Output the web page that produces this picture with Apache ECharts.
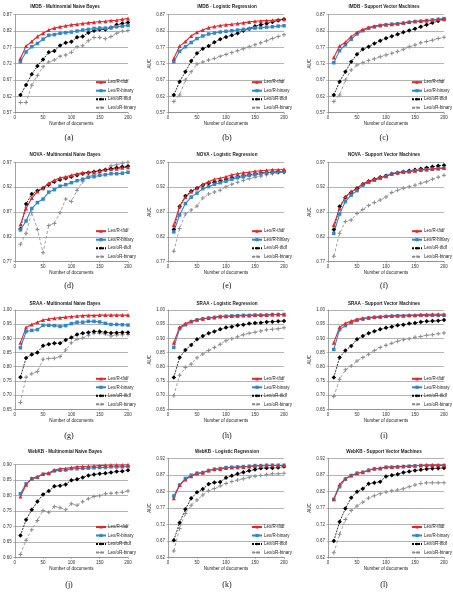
<!DOCTYPE html>
<html>
<head>
<meta charset="utf-8">
<script src="https://cdn.jsdelivr.net/npm/echarts@6/dist/echarts.min.js"></script>
<style>
  html, body { margin: 0; padding: 0; background: #fff; }
  #chart { width: 453px; height: 599px; }
</style>
</head>
<body>
<div id="chart"></div>
<script>
// number of labelled documents (x values)
const docs = [10, 20, 30, 40, 50, 60, 70, 80, 90, 100, 110, 120, 130, 140, 150, 160, 170, 180, 190, 200]
const seriesNames = ['Lex/R-tfidf', 'Lex/R-binary', 'Lex/oR-tfidf', 'Lex/oR-binary']
const panelTitles = [
  'IMDB - Multinomial Naive Bayes', 'IMDB - Logistic Regression', 'IMDB - Support Vector Machines',
  'NOVA - Multinomial Naive Bayes', 'NOVA - Logistic Regression', 'NOVA - Support Vector Machines',
  'SRAA - Multinomial Naive Bayes', 'SRAA - Logistic Regression', 'SRAA - Support Vector Machines',
  'WebKB - Multinomial Naive Bayes', 'WebKB - Logistic Regression', 'WebKB - Support Vector Machines',
]
const captions = ['(a)', '(b)', '(c)', '(d)', '(e)', '(f)', '(g)', '(h)', '(i)', '(j)', '(k)', '(l)']

// tick labels
const xTicks = [0, 50, 100, 150, 200]
const ticksImdb = [0.57, 0.62, 0.67, 0.72, 0.77, 0.82, 0.87]
const ticksNova = [0.77, 0.82, 0.87, 0.92, 0.97]
const ticksSraa = [0.65, 0.70, 0.75, 0.80, 0.85, 0.90, 0.95, 1.00]
const ticksWebkbNB = [0.60, 0.65, 0.70, 0.75, 0.80, 0.85, 0.90]
const ticksWebkb = [0.62, 0.67, 0.72, 0.77, 0.82, 0.87, 0.92]

// AUC values, rows in the order of seriesNames
const imdbNB = [
  [0.736, 0.774, 0.788, 0.803, 0.813, 0.823, 0.829, 0.833, 0.836, 0.839, 0.841, 0.843, 0.845, 0.847, 0.849, 0.850, 0.852, 0.853, 0.856, 0.858],
  [0.726, 0.756, 0.772, 0.782, 0.795, 0.807, 0.809, 0.813, 0.815, 0.817, 0.820, 0.823, 0.825, 0.828, 0.829, 0.829, 0.830, 0.833, 0.835, 0.837],
  [0.624, 0.655, 0.688, 0.713, 0.733, 0.755, 0.759, 0.776, 0.784, 0.787, 0.801, 0.803, 0.815, 0.821, 0.825, 0.825, 0.831, 0.839, 0.843, 0.846],
  [0.601, 0.601, 0.654, 0.684, 0.711, 0.725, 0.731, 0.743, 0.747, 0.755, 0.772, 0.775, 0.790, 0.800, 0.800, 0.796, 0.803, 0.813, 0.819, 0.822],
]
const imdbLR = [
  [0.736, 0.774, 0.788, 0.805, 0.816, 0.823, 0.830, 0.834, 0.837, 0.839, 0.841, 0.843, 0.845, 0.848, 0.850, 0.851, 0.852, 0.853, 0.855, 0.856],
  [0.726, 0.758, 0.772, 0.785, 0.797, 0.805, 0.811, 0.814, 0.817, 0.819, 0.821, 0.823, 0.825, 0.827, 0.829, 0.830, 0.832, 0.833, 0.835, 0.836],
  [0.624, 0.665, 0.695, 0.728, 0.752, 0.766, 0.774, 0.786, 0.795, 0.802, 0.807, 0.813, 0.821, 0.827, 0.835, 0.839, 0.843, 0.848, 0.852, 0.856],
  [0.604, 0.624, 0.670, 0.695, 0.719, 0.725, 0.731, 0.736, 0.743, 0.748, 0.754, 0.760, 0.766, 0.772, 0.778, 0.784, 0.790, 0.797, 0.803, 0.809],
]
const imdbSVM = [
  [0.739, 0.774, 0.786, 0.803, 0.816, 0.825, 0.831, 0.835, 0.838, 0.840, 0.841, 0.843, 0.845, 0.848, 0.850, 0.851, 0.852, 0.853, 0.855, 0.857],
  [0.723, 0.760, 0.778, 0.795, 0.811, 0.821, 0.829, 0.833, 0.837, 0.839, 0.841, 0.842, 0.844, 0.847, 0.849, 0.850, 0.852, 0.854, 0.856, 0.858],
  [0.624, 0.665, 0.695, 0.726, 0.749, 0.764, 0.772, 0.782, 0.790, 0.798, 0.804, 0.810, 0.816, 0.822, 0.827, 0.833, 0.839, 0.845, 0.851, 0.856],
  [0.604, 0.624, 0.670, 0.701, 0.716, 0.723, 0.730, 0.735, 0.741, 0.747, 0.752, 0.757, 0.764, 0.772, 0.777, 0.784, 0.788, 0.792, 0.797, 0.801],
]
const novaNB = [
  [0.845, 0.877, 0.898, 0.911, 0.918, 0.928, 0.934, 0.939, 0.941, 0.944, 0.947, 0.949, 0.950, 0.951, 0.953, 0.955, 0.956, 0.957, 0.959, 0.960],
  [0.834, 0.852, 0.877, 0.889, 0.896, 0.910, 0.915, 0.922, 0.925, 0.929, 0.933, 0.936, 0.940, 0.941, 0.944, 0.945, 0.947, 0.947, 0.948, 0.950],
  [0.836, 0.886, 0.906, 0.913, 0.918, 0.925, 0.931, 0.935, 0.938, 0.941, 0.944, 0.947, 0.949, 0.951, 0.953, 0.955, 0.957, 0.959, 0.961, 0.962],
  [0.805, 0.827, 0.869, 0.835, 0.788, 0.843, 0.847, 0.869, 0.896, 0.891, 0.914, 0.931, 0.941, 0.945, 0.949, 0.955, 0.963, 0.965, 0.968, 0.970],
]
const novaLR = [
  [0.844, 0.881, 0.900, 0.911, 0.918, 0.926, 0.931, 0.936, 0.938, 0.941, 0.945, 0.947, 0.949, 0.950, 0.952, 0.953, 0.954, 0.955, 0.955, 0.956],
  [0.830, 0.864, 0.887, 0.900, 0.908, 0.917, 0.921, 0.926, 0.929, 0.932, 0.936, 0.939, 0.941, 0.944, 0.945, 0.947, 0.949, 0.950, 0.951, 0.952],
  [0.835, 0.881, 0.902, 0.912, 0.918, 0.924, 0.928, 0.930, 0.932, 0.936, 0.939, 0.941, 0.943, 0.945, 0.947, 0.949, 0.949, 0.950, 0.951, 0.951],
  [0.791, 0.837, 0.866, 0.874, 0.882, 0.898, 0.906, 0.910, 0.914, 0.921, 0.926, 0.930, 0.934, 0.937, 0.940, 0.942, 0.945, 0.947, 0.949, 0.950],
]
const novaSVM = [
  [0.844, 0.877, 0.901, 0.911, 0.918, 0.927, 0.932, 0.936, 0.940, 0.942, 0.947, 0.949, 0.951, 0.952, 0.953, 0.955, 0.956, 0.957, 0.958, 0.959],
  [0.827, 0.866, 0.891, 0.904, 0.913, 0.924, 0.930, 0.934, 0.938, 0.942, 0.947, 0.949, 0.950, 0.951, 0.953, 0.954, 0.955, 0.956, 0.957, 0.958],
  [0.835, 0.881, 0.899, 0.909, 0.918, 0.926, 0.932, 0.936, 0.940, 0.943, 0.947, 0.949, 0.951, 0.953, 0.955, 0.957, 0.959, 0.961, 0.963, 0.964],
  [0.781, 0.827, 0.851, 0.854, 0.867, 0.875, 0.883, 0.889, 0.894, 0.900, 0.909, 0.914, 0.918, 0.921, 0.924, 0.928, 0.931, 0.936, 0.940, 0.944],
]
const sraaNB = [
  [0.885, 0.938, 0.949, 0.957, 0.965, 0.968, 0.971, 0.973, 0.975, 0.977, 0.979, 0.980, 0.981, 0.981, 0.982, 0.982, 0.982, 0.982, 0.982, 0.982],
  [0.867, 0.924, 0.928, 0.931, 0.946, 0.946, 0.945, 0.942, 0.945, 0.952, 0.957, 0.957, 0.960, 0.960, 0.958, 0.953, 0.949, 0.949, 0.948, 0.947],
  [0.763, 0.831, 0.843, 0.850, 0.874, 0.879, 0.883, 0.883, 0.894, 0.903, 0.914, 0.918, 0.921, 0.924, 0.924, 0.922, 0.919, 0.920, 0.921, 0.921],
  [0.674, 0.763, 0.775, 0.783, 0.826, 0.829, 0.830, 0.836, 0.859, 0.885, 0.897, 0.901, 0.911, 0.918, 0.918, 0.915, 0.908, 0.912, 0.913, 0.914],
]
const sraaLR = [
  [0.885, 0.939, 0.952, 0.960, 0.966, 0.969, 0.972, 0.974, 0.977, 0.978, 0.979, 0.980, 0.981, 0.981, 0.982, 0.982, 0.982, 0.984, 0.984, 0.984],
  [0.868, 0.934, 0.948, 0.959, 0.965, 0.969, 0.972, 0.974, 0.977, 0.978, 0.979, 0.980, 0.981, 0.981, 0.982, 0.982, 0.982, 0.984, 0.984, 0.984],
  [0.762, 0.833, 0.859, 0.877, 0.897, 0.908, 0.918, 0.924, 0.932, 0.938, 0.941, 0.946, 0.948, 0.952, 0.954, 0.955, 0.958, 0.959, 0.960, 0.961],
  [0.698, 0.770, 0.797, 0.810, 0.832, 0.845, 0.857, 0.868, 0.879, 0.892, 0.899, 0.906, 0.913, 0.918, 0.922, 0.926, 0.930, 0.932, 0.934, 0.937],
]
const sraaSVM = [
  [0.885, 0.939, 0.953, 0.961, 0.967, 0.971, 0.973, 0.975, 0.977, 0.979, 0.980, 0.981, 0.981, 0.982, 0.982, 0.984, 0.984, 0.985, 0.985, 0.985],
  [0.861, 0.931, 0.945, 0.955, 0.964, 0.968, 0.972, 0.974, 0.975, 0.977, 0.978, 0.979, 0.979, 0.980, 0.980, 0.981, 0.981, 0.981, 0.981, 0.981],
  [0.762, 0.833, 0.857, 0.873, 0.897, 0.908, 0.918, 0.925, 0.932, 0.937, 0.941, 0.946, 0.948, 0.952, 0.954, 0.958, 0.960, 0.961, 0.962, 0.965],
  [0.695, 0.756, 0.789, 0.803, 0.820, 0.833, 0.844, 0.857, 0.868, 0.876, 0.883, 0.890, 0.895, 0.899, 0.904, 0.907, 0.911, 0.913, 0.916, 0.919],
]
const webkbNB = [
  [0.797, 0.835, 0.856, 0.861, 0.871, 0.873, 0.883, 0.887, 0.888, 0.891, 0.893, 0.894, 0.895, 0.896, 0.897, 0.898, 0.899, 0.899, 0.899, 0.900],
  [0.806, 0.838, 0.854, 0.859, 0.869, 0.871, 0.880, 0.882, 0.883, 0.887, 0.887, 0.888, 0.889, 0.890, 0.891, 0.891, 0.893, 0.893, 0.893, 0.894],
  [0.671, 0.722, 0.754, 0.781, 0.804, 0.815, 0.830, 0.832, 0.836, 0.850, 0.853, 0.859, 0.865, 0.868, 0.871, 0.872, 0.875, 0.878, 0.879, 0.882],
  [0.610, 0.656, 0.690, 0.720, 0.752, 0.746, 0.765, 0.761, 0.754, 0.774, 0.769, 0.780, 0.790, 0.797, 0.800, 0.806, 0.808, 0.809, 0.811, 0.815],
]
const webkbLR = [
  [0.799, 0.839, 0.856, 0.866, 0.874, 0.876, 0.883, 0.887, 0.888, 0.891, 0.892, 0.893, 0.894, 0.895, 0.897, 0.897, 0.898, 0.898, 0.898, 0.898],
  [0.806, 0.839, 0.859, 0.869, 0.875, 0.877, 0.883, 0.887, 0.889, 0.892, 0.893, 0.894, 0.895, 0.896, 0.898, 0.898, 0.899, 0.899, 0.899, 0.899],
  [0.672, 0.725, 0.766, 0.799, 0.817, 0.827, 0.842, 0.847, 0.848, 0.861, 0.867, 0.873, 0.878, 0.882, 0.886, 0.890, 0.891, 0.891, 0.892, 0.895],
  [0.640, 0.708, 0.753, 0.778, 0.794, 0.809, 0.822, 0.829, 0.836, 0.844, 0.850, 0.854, 0.858, 0.863, 0.866, 0.868, 0.871, 0.873, 0.873, 0.875],
]
const webkbSVM = [
  [0.796, 0.841, 0.859, 0.868, 0.875, 0.878, 0.884, 0.889, 0.890, 0.894, 0.894, 0.895, 0.896, 0.897, 0.898, 0.899, 0.900, 0.900, 0.900, 0.900],
  [0.796, 0.834, 0.857, 0.868, 0.875, 0.878, 0.884, 0.888, 0.889, 0.893, 0.893, 0.894, 0.895, 0.896, 0.897, 0.898, 0.898, 0.898, 0.898, 0.898],
  [0.670, 0.728, 0.768, 0.801, 0.819, 0.828, 0.843, 0.846, 0.849, 0.865, 0.869, 0.872, 0.877, 0.880, 0.883, 0.885, 0.888, 0.889, 0.890, 0.891],
  [0.634, 0.690, 0.735, 0.762, 0.776, 0.787, 0.800, 0.807, 0.813, 0.818, 0.822, 0.824, 0.828, 0.834, 0.839, 0.844, 0.846, 0.846, 0.846, 0.846],
]

const panelData = [imdbNB, imdbLR, imdbSVM, novaNB, novaLR, novaSVM, sraaNB, sraaLR, sraaSVM, webkbNB, webkbLR, webkbSVM]
const panelTicks = [ticksImdb, ticksImdb, ticksImdb, ticksNova, ticksNova, ticksNova,
  ticksSraa, ticksSraa, ticksSraa, ticksWebkbNB, ticksWebkb, ticksWebkb]

// layout (pixels)
const colLeft = [11, 168, 328]
const colWidth = [117, 116, 116]
const colCenter = [69, 227, 384]
const rowTop = [14.7, 162.3, 310, 458.3]
const rowBottom = [112.7, 261.7, 409.3, 557.5]
const titleY = [7, 155, 304, 452]
const captionY = [138, 286, 436, 585]

const FONT = 'Liberation Sans'
const plusPath = 'path://M3,0H5V3H8V5H5V8H3V5H0V3H3Z'
const styles = [
  { color: '#e3262a', symbol: 'triangle', symbolSize: 4, type: 'solid', width: 1.1 },
  { color: '#2f87cc', symbol: 'rect', symbolSize: 3.5, type: 'solid', width: 1.1 },
  { color: '#000000', symbol: 'diamond', symbolSize: 4.5, type: [2, 1], width: 0.8 },
  { color: '#8c8c8c', symbol: plusPath, symbolSize: 4, type: [3, 2], width: 0.8 },
]

const chart = echarts.init(document.getElementById('chart'))

const grids = []
const xAxes = []
const yAxes = []
const legends = []
const series = []
const graphics = []

panelData.forEach((rows, i) => {
  const r = Math.floor(i / 3)
  const c = i % 3
  const ticks = panelTicks[i]
  // WebKB NB panel starts a little lower
  const top = i === 9 ? 464.7 : rowTop[r]
  const bottom = rowBottom[r]

  grids.push({ left: colLeft[c], width: colWidth[c], top: top, height: bottom - top })

  xAxes.push({
    type: 'value',
    gridIndex: i,
    min: xTicks[0],
    max: xTicks[xTicks.length - 1],
    interval: 50,
    name: 'Number of documents',
    nameLocation: 'middle',
    nameGap: 8.5,
    nameTextStyle: { fontSize: 4.5, fontFamily: FONT, color: '#222' },
    axisLine: { lineStyle: { color: '#8a8a8a', width: 0.8 } },
    axisTick: { length: 1.5, lineStyle: { color: '#8a8a8a', width: 0.6 } },
    axisLabel: { fontSize: 4.5, fontFamily: FONT, color: '#333', margin: 3 },
    splitLine: { show: false },
  })

  yAxes.push({
    type: 'value',
    gridIndex: i,
    min: ticks[0],
    max: ticks[ticks.length - 1],
    name: c === 0 ? '' : 'AUC',
    nameLocation: 'middle',
    nameGap: c === 1 ? 12 : 15,
    nameTextStyle: { fontSize: 4.5, fontFamily: FONT, color: '#222' },
    axisLine: { show: true, lineStyle: { color: '#8a8a8a', width: 0.8 } },
    axisTick: { show: true, length: 1.5, customValues: ticks, lineStyle: { color: '#8a8a8a', width: 0.6 } },
    axisLabel: {
      customValues: ticks,
      fontSize: 4.5,
      fontFamily: FONT,
      color: '#333',
      margin: 3,
      formatter: (v) => v.toFixed(2),
    },
    splitLine: { show: true, lineStyle: { color: '#b3b3b3', width: 1.2 } },
  })

  legends.push({
    data: seriesNames,
    orient: 'vertical',
    left: colLeft[c] + colWidth[c] - 33,
    top: bottom - 33,
    padding: 0,
    itemWidth: 10,
    itemHeight: 4,
    itemGap: 3.5,
    selectedMode: false,
    textStyle: { fontSize: 4.5, fontFamily: FONT, color: '#222', padding: [0, 0, 0, -3] },
  })

  // draw grey first so the red curve ends up on top
  for (let s = 3; s >= 0; s--) {
    const st = styles[s]
    series.push({
      name: seriesNames[s],
      type: 'line',
      xAxisIndex: i,
      yAxisIndex: i,
      data: docs.map((d, k) => [d, rows[s][k]]),
      symbol: st.symbol,
      symbolSize: st.symbolSize,
      showSymbol: true,
      itemStyle: { color: st.color },
      lineStyle: { color: st.color, width: st.width, type: st.type },
      emphasis: { disabled: true },
    })
  }

  graphics.push({
    type: 'text',
    x: c === 0 ? 65 : colCenter[c],
    y: titleY[r],
    style: {
      text: panelTitles[i],
      fontSize: 4.6,
      fontWeight: 'bold',
      fontFamily: FONT,
      fill: '#222',
      textAlign: 'center',
      textVerticalAlign: 'middle',
    },
  })
  graphics.push({
    type: 'text',
    x: colCenter[c],
    y: captionY[r],
    style: {
      text: captions[i],
      fontSize: 8,
      fontFamily: 'Liberation Serif',
      fill: '#111',
      textAlign: 'center',
      textVerticalAlign: 'middle',
    },
  })
})

chart.setOption({
  animation: false,
  backgroundColor: '#fff',
  grid: grids,
  xAxis: xAxes,
  yAxis: yAxes,
  legend: legends,
  series: series,
  graphic: graphics,
})
</script>
</body>
</html>
